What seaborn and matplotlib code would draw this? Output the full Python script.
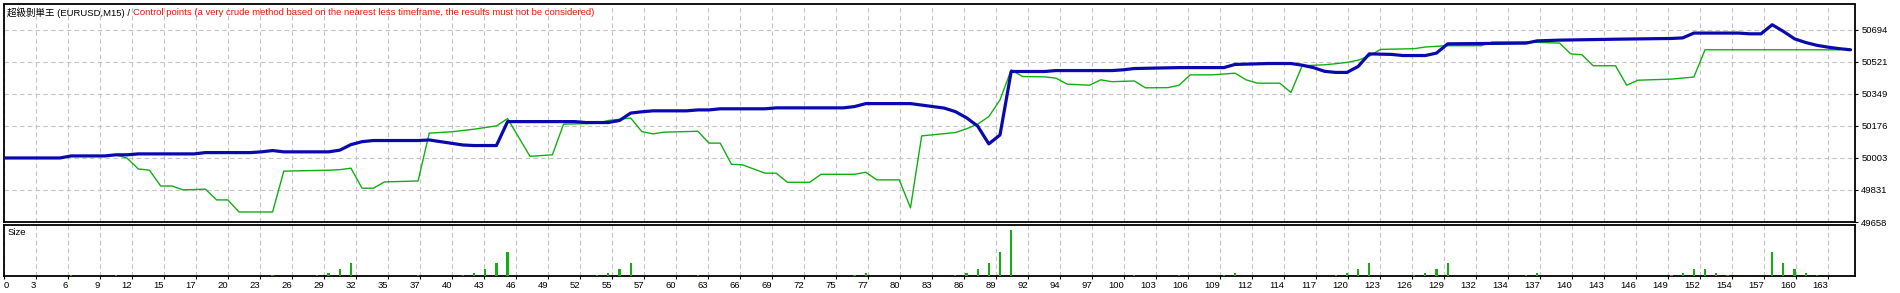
import numpy as np
import pandas as pd
import matplotlib
matplotlib.use("Agg")
import matplotlib.pyplot as plt
import seaborn as sns

sns.set_theme(style="white")
plt.rcParams['font.family'] = ['Liberation Sans', 'Noto Sans CJK JP', 'DejaVu Sans']

# ---------------- data ----------------
balance_trade = [0, 5, 6, 9, 10, 11, 12, 17, 18, 22, 23, 24, 25, 29, 30, 31, 32, 33, 37, 38,
                 39, 40, 41, 42, 44, 45, 51, 52, 54, 55, 56, 57, 58, 61, 62, 63, 64, 68, 69, 75,
                 76, 77, 81, 82, 83, 84, 85, 86, 87, 88, 89, 90, 93, 94, 99, 100, 101, 105, 109, 110,
                 113, 115, 116, 117, 118, 119, 120, 121, 122, 124, 125, 127, 128, 129, 136, 137, 139, 144, 149, 150,
                 151, 155, 156, 157, 158, 159, 160, 161, 162, 163, 164, 165]
balance_value = [50003, 50003, 50014, 50014, 50020, 50020, 50025, 50025, 50032, 50032, 50036, 50043, 50036, 50036, 50045, 50075, 50091, 50097, 50097, 50100,
                 50091, 50082, 50073, 50070, 50070, 50199, 50199, 50194, 50194, 50205, 50245, 50252, 50257, 50257, 50262, 50262, 50268, 50268, 50273, 50273,
                 50280, 50296, 50296, 50288, 50280, 50272, 50253, 50220, 50175, 50079, 50127, 50469, 50469, 50474, 50474, 50478, 50485, 50490, 50490, 50507,
                 50512, 50512, 50503, 50490, 50470, 50464, 50464, 50496, 50564, 50561, 50555, 50555, 50568, 50618, 50622, 50634, 50638, 50643, 50647, 50650,
                 50676, 50676, 50672, 50672, 50721, 50685, 50645, 50625, 50610, 50600, 50592, 50586]

equity_trade = [0, 5, 6, 9, 10, 11, 12, 13, 14, 15, 16, 18, 19, 20, 21, 24, 25, 29, 30, 31,
                32, 33, 34, 37, 38, 40, 41, 42, 44, 45, 47, 49, 50, 53, 54, 56, 57, 58, 59, 62,
                63, 64, 65, 66, 68, 69, 70, 72, 73, 76, 77, 78, 80, 81, 82, 84, 85, 86, 87, 88,
                89, 90, 91, 93, 94, 95, 97, 98, 99, 101, 102, 104, 105, 106, 108, 110, 111, 112, 114, 115,
                116, 118, 119, 120, 121, 122, 123, 126, 127, 129, 132, 133, 136, 139, 140, 141, 142, 144, 145, 146,
                149, 151, 152, 164]
equity_value = [50003, 50003, 50014, 50014, 50020, 50002, 49944, 49937, 49852, 49852, 49831, 49835, 49777, 49777, 49712, 49712, 49932, 49937, 49940, 49948,
                49840, 49840, 49874, 49879, 50137, 50144, 50151, 50158, 50176, 50215, 50012, 50020, 50185, 50190, 50205, 50218, 50145, 50133, 50142, 50147,
                50083, 50083, 49969, 49966, 49921, 49921, 49872, 49872, 49915, 49915, 49926, 49885, 49885, 49734, 50122, 50134, 50140, 50160, 50185, 50226,
                50316, 50478, 50442, 50440, 50433, 50401, 50395, 50424, 50414, 50418, 50381, 50382, 50395, 50451, 50451, 50460, 50424, 50406, 50406, 50356,
                50500, 50505, 50511, 50518, 50530, 50552, 50588, 50592, 50601, 50608, 50608, 50628, 50628, 50622, 50564, 50559, 50500, 50500, 50395, 50422,
                50428, 50439, 50586, 50586]

size_trade = [6, 10, 24, 28, 29, 30, 31, 37, 41, 42, 43, 44, 45, 53, 54, 55, 56, 62, 76, 77,
              85, 86, 87, 88, 89, 90, 101, 105, 109, 110, 119, 120, 121, 122, 126, 127, 128, 129, 136, 137,
              149, 150, 151, 152, 153, 154, 158, 159, 160, 161, 162]
size_lots = [0.01, 0.01, 0.01, 0.01, 0.02, 0.05, 0.09, 0.01, 0.01, 0.02, 0.05, 0.09, 0.17, 0.01, 0.02, 0.05, 0.09, 0.01, 0.01, 0.02,
             0.01, 0.02, 0.05, 0.09, 0.17, 0.32, 0.01, 0.01, 0.01, 0.02, 0.01, 0.02, 0.05, 0.09, 0.01, 0.02, 0.05, 0.09, 0.01, 0.02,
             0.01, 0.02, 0.05, 0.05, 0.02, 0.01, 0.17, 0.09, 0.05, 0.02, 0.01]

x_tick_labels = ['0', '3', '6', '9', '12', '15', '17', '20', '23', '26', '29', '32', '35', '37', '40', '43', '46', '49', '52', '55',
                 '57', '60', '63', '66', '69', '72', '75', '77', '80', '83', '86', '89', '92', '94', '97', '100', '103', '106', '109', '112',
                 '114', '117', '120', '123', '126', '129', '132', '134', '137', '140', '143', '146', '149', '152', '154', '157', '160', '163']
y_tick_values = [49658, 49831, 50003, 50176, 50349, 50521, 50694]

title_black = "超級剝単王 (EURUSD,M15) / "
title_red = "Control points (a very crude method based on the nearest less timeframe, the results must not be considered)"

# ---------------- layout ----------------
W, H = 1900, 293
fig = plt.figure(figsize=(W / 100, H / 100), dpi=100, facecolor='white')
left_px, right_px = 4, 1855
ax = fig.add_axes([left_px / W, 1 - 222 / H, (right_px - left_px) / W, (222 - 4.5) / H])
ax2 = fig.add_axes([left_px / W, 1 - 276 / H, (right_px - left_px) / W, (276 - 224.5) / H])

tick_step = 2.86
x_ticks = np.arange(len(x_tick_labels)) * tick_step
x_max = 165.4

GREEN = '#12AE12'
BLUE = '#0A0AAC'
GRID = '#C4C4C4'
FS = 6.8

eq_df = pd.DataFrame({'trade': equity_trade, 'value': equity_value})
bal_df = pd.DataFrame({'trade': balance_trade, 'value': balance_value})
size_df = pd.DataFrame({'trade': size_trade, 'lots': size_lots})

sns.lineplot(data=eq_df, x='trade', y='value', color=GREEN, lw=1.0, estimator=None,
             sort=False, ax=ax, zorder=3)
sns.lineplot(data=bal_df, x='trade', y='value', color=BLUE, lw=2.3, estimator=None,
             sort=False, ax=ax, zorder=4)

sns.barplot(data=size_df, x='trade', y='lots', native_scale=True, width=0.2, color=GREEN,
            saturation=1, errorbar=None, linewidth=0, ax=ax2, zorder=3)

for a in (ax, ax2):
    a.set_facecolor('white')
    a.set_xlim(0, x_max)
    a.set_xticks(x_ticks)
    a.grid(True, axis='x', color=GRID, linestyle=(0, (4, 3)), lw=0.8)
    a.set_xlabel('')
    a.set_ylabel('')
    for s in a.spines.values():
        s.set_color('black')
        s.set_linewidth(1.3)
        s.set_visible(True)

ax.set_ylim(49658, 50830)
ax.set_yticks(y_tick_values)
ax.set_yticklabels([str(v) for v in y_tick_values])
ax.yaxis.tick_right()
ax.grid(True, axis='y', color=GRID, linestyle=(0, (4, 3)), lw=0.8)
ax.tick_params(axis='y', right=True, left=False, length=2.5, width=0.8, pad=2,
               labelsize=FS, colors='black')
ax.tick_params(axis='x', bottom=False, labelbottom=False)

ax2.set_ylim(0, 0.36)
ax2.set_yticks([])
ax2.set_xticklabels(x_tick_labels)
ax2.tick_params(axis='x', bottom=True, length=2, width=0.8, pad=1.5, labelsize=FS, colors='black')
for i, lab in enumerate(ax2.get_xticklabels()):
    lab.set_ha('left' if i == 0 else 'right')

ax2.text((8 - left_px) / (right_px - left_px), 0.93, 'Size', transform=ax2.transAxes,
         ha='left', va='top', fontsize=FS, color='black')

t1 = ax.text((7 - left_px) / (right_px - left_px), (222 - 13) / 217.5, title_black,
             transform=ax.transAxes, ha='left', va='center', fontsize=FS, color='black', zorder=6)
ax.annotate(title_red, xy=(1, 0.5), xycoords=t1, ha='left', va='center',
            fontsize=FS, color='#F01010', zorder=6)

fig.savefig('out.png', dpi=100, facecolor='white')
